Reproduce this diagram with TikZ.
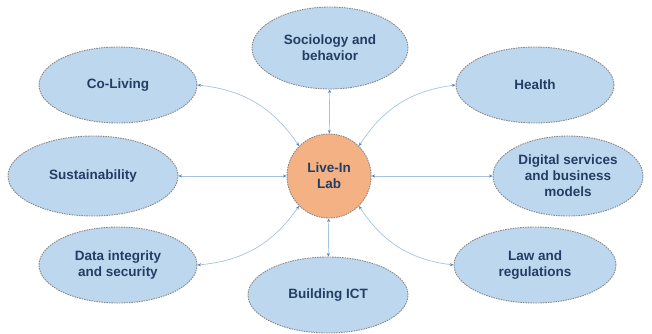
\documentclass[tikz,border=0pt]{standalone}
\usepackage{fontspec}
\setmainfont{Liberation Sans}
\usepackage{tikz}
\usetikzlibrary{positioning}
\usetikzlibrary{arrows.meta,shapes.geometric}

\definecolor{topicfill}{RGB}{189,215,238}
\definecolor{labfill}{RGB}{244,177,131}
\definecolor{topictext}{RGB}{35,62,100}
\definecolor{rimgray}{RGB}{135,135,135}
\definecolor{linkblue}{RGB}{165,195,225}
\definecolor{tipblue}{RGB}{80,130,190}

\tikzset{
	topic/.style={ellipse, draw=rimgray, dash pattern=on 1.5pt off 1pt, line width=0.9pt, fill=topicfill,
		text=topictext, font=\fontsize{13.5}{16}\selectfont\bfseries, align=center, inner sep=0pt},
	labnode/.style={circle, draw=rimgray, dash pattern=on 1.5pt off 1pt, line width=0.9pt, fill=labfill,
		text=topictext, font=\fontsize{13.5}{16}\selectfont\bfseries, align=center,
		minimum size=84pt, inner sep=0pt},
	link/.style={draw=linkblue, line width=0.7pt,
		{Stealth[length=3.5pt,width=3pt,color=tipblue]}-{Stealth[length=3.5pt,width=3pt,color=tipblue]}}
}

\begin{document}
\begin{tikzpicture}[x=1pt, y=-1pt]
	\useasboundingbox (0,0) rectangle (652,333);
	
	\node[labnode] (lab) at (329,176) {Live-In\\Lab};
	
	\node[topic, minimum width=156pt, minimum height=82pt] (soc) at (330,48) {Sociology and\\behavior};
	\node[topic, minimum width=158pt, minimum height=76pt] (coliving) at (118,85) {Co-Living};
	\node[topic, minimum width=158pt, minimum height=76pt] (health) at (535,85) {Health};
	\node[topic, minimum width=170pt, minimum height=80pt] (sust) at (93,176) {Sustainability};
	\node[topic, minimum width=150pt, minimum height=80pt] (digital) at (568,176) {Digital services\\and business\\models};
	\node[topic, minimum width=158pt, minimum height=76pt] (data) at (118,265) {Data integrity\\and security};
	\node[topic, minimum width=162pt, minimum height=76pt] (law) at (535,265) {Law and\\regulations};
	\node[topic, minimum width=160pt, minimum height=76pt] (bict) at (328,295) {Building ICT};
	
	% straight links
	\draw[link] (soc) -- (lab);
	\draw[link] (lab) -- (bict);
	\draw[link] (sust) -- (lab);
	\draw[link] (lab) -- (digital);
	
	% curved links
	\draw[link] (coliving.east) to[bend left=25] (lab.135);
	\draw[link] (lab.45) to[bend left=25] (health.west);
	\draw[link] (data.east) to[bend right=25] (lab.225);
	\draw[link] (lab.315) to[bend right=25] (law.west);
\end{tikzpicture}
\end{document}
